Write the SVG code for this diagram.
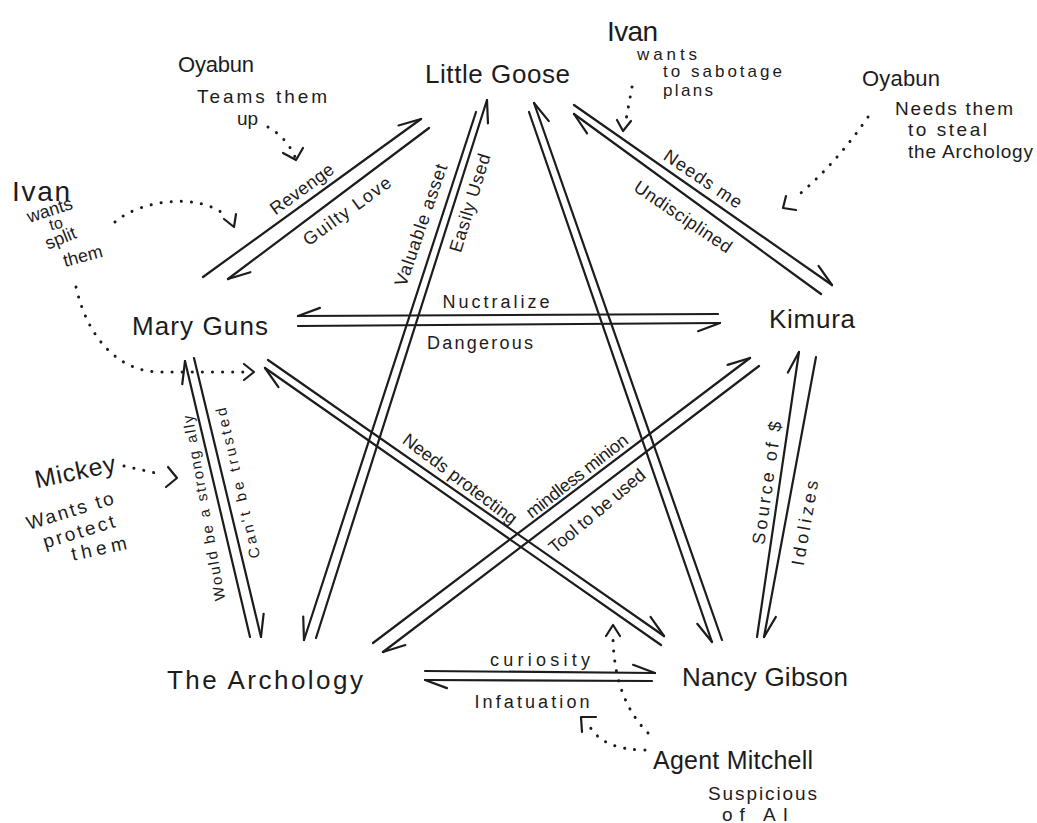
<svg xmlns="http://www.w3.org/2000/svg" width="1037" height="823" viewBox="0 0 1037 823">
<style>
  .ln{stroke:#1c1c1c;stroke-width:2.2;fill:none;stroke-linecap:round}
  .hd{stroke:#1c1c1c;stroke-width:2.2;fill:none;stroke-linecap:round;stroke-linejoin:round}
  .dt{stroke:#1c1c1c;stroke-width:3;fill:none;stroke-linecap:round;stroke-dasharray:0.1 10}
  text{font-family:"Liberation Sans","DejaVu Sans",sans-serif;fill:#1c1c1c}
  .nd{font-size:26px}
  .lb{font-size:18px}
  .an{font-size:19px}
  .nm{font-size:25px}
</style>
<defs>
  <marker id="hL" markerUnits="userSpaceOnUse" orient="auto" markerWidth="40" markerHeight="40" viewBox="-30 -20 40 40" refX="0" refY="0" overflow="visible">
    <path class="hd" d="M0,0 L-22,-8"/>
  </marker>
  <marker id="hR" markerUnits="userSpaceOnUse" orient="auto" markerWidth="40" markerHeight="40" viewBox="-30 -20 40 40" refX="0" refY="0" overflow="visible">
    <path class="hd" d="M0,0 L-22,8"/>
  </marker>
</defs>
<rect width="1037" height="823" fill="#ffffff"/>

<g id="connectors">
  <!-- Mary Guns - Little Goose -->
  <path class="ln" d="M203,277 L421,119" marker-end="url(#hL)"/>
  <path class="ln" d="M429,128 L228,279" marker-end="url(#hL)"/>
  <text class="lb" transform="translate(302,189) rotate(-36)" text-anchor="middle" y="6" textLength="74">Revenge</text>
  <text class="lb" transform="translate(347,211) rotate(-36)" text-anchor="middle" y="6" textLength="104">Guilty Love</text>

  <!-- Little Goose - Kimura -->
  <path class="ln" d="M574,105 L832,285" marker-end="url(#hL)"/>
  <path class="ln" d="M821,294 L574,114" marker-end="url(#hL)"/>
  <text class="lb" transform="translate(703,179) rotate(34)" text-anchor="middle" y="6" textLength="90">Needs  me</text>
  <text class="lb" transform="translate(683,217) rotate(34)" text-anchor="middle" y="6" textLength="114">Undisciplined</text>

  <!-- Mary Guns - Kimura -->
  <path class="ln" d="M718,314 L298,316" marker-end="url(#hR)"/>
  <path class="ln" d="M298,326 L720,323" marker-end="url(#hR)"/>
  <text class="lb" x="496" y="308" text-anchor="middle" textLength="107">Nuctralize</text>
  <text class="lb" x="480" y="349" text-anchor="middle" textLength="106">Dangerous</text>

  <!-- Mary Guns - The Archology -->
  <path class="ln" d="M250,637 L185,361" marker-end="url(#hL)"/>
  <path class="ln" d="M194,358 L261,637" marker-end="url(#hL)"/>
  <text class="lb" style="font-size:15px" transform="translate(204,508) rotate(-100)" text-anchor="middle" y="5" textLength="188">Would be a strong ally</text>
  <text class="lb" style="font-size:15px" transform="translate(238,483) rotate(-103)" text-anchor="middle" y="5" textLength="154">Can't be trusted</text>

  <!-- Little Goose - The Archology -->
  <path class="ln" d="M476,112 L304,640" marker-end="url(#hR)"/>
  <path class="ln" d="M316,638 L487,100" marker-end="url(#hR)"/>
  <text class="lb" transform="translate(421,225) rotate(-71)" text-anchor="middle" y="6" textLength="128">Valuable asset</text>
  <text class="lb" transform="translate(470,203) rotate(-73)" text-anchor="middle" y="6" textLength="102">Easily Used</text>

  <!-- Little Goose - Nancy Gibson -->
  <path class="ln" d="M529,112 L712,642" marker-end="url(#hR)"/>
  <path class="ln" d="M722,640 L534,103" marker-end="url(#hR)"/>

  <!-- Kimura - Nancy Gibson -->
  <path class="ln" d="M757,637 L799,352" marker-end="url(#hL)"/>
  <path class="ln" d="M816,357 L764,637" marker-end="url(#hL)"/>
  <text class="lb" transform="translate(767,483) rotate(-82)" text-anchor="middle" y="6" textLength="124">Source of $</text>
  <text class="lb" transform="translate(805,523) rotate(-80)" text-anchor="middle" y="6" textLength="86">Idolizes</text>

  <!-- Mary Guns - Nancy Gibson -->
  <path class="ln" d="M268,360 L664,636" marker-end="url(#hL)"/>
  <path class="ln" d="M661,645 L265,368" marker-end="url(#hL)"/>
  <text class="lb" transform="translate(460,479) rotate(37)" text-anchor="middle" y="6" textLength="138">Needs protecting</text>

  <!-- The Archology - Kimura -->
  <path class="ln" d="M373,643 L750,358" marker-end="url(#hL)"/>
  <path class="ln" d="M759,366 L383,652" marker-end="url(#hL)"/>
  <text class="lb" transform="translate(577,476) rotate(-38)" text-anchor="middle" y="6" textLength="124">mindless minion</text>
  <text class="lb" transform="translate(597,511) rotate(-40)" text-anchor="middle" y="6" textLength="120">Tool to be used</text>

  <!-- The Archology - Nancy Gibson -->
  <path class="ln" d="M425,671 L655,673" marker-end="url(#hL)"/>
  <path class="ln" d="M652,681 L425,680" marker-end="url(#hL)"/>
  <text class="lb" x="540" y="666" text-anchor="middle" textLength="100">curiosity</text>
  <text class="lb" x="532" y="708" text-anchor="middle" textLength="115">Infatuation</text>

  <!-- dotted annotation links -->
  <path class="dt" d="M268,127 Q287,138 295,157"/>
  <path class="hd" d="M283,153 L296,160 L303,148"/>
  <path class="dt" d="M115,222 C140,200 200,192 226,216"/>
  <path class="hd" d="M224,219 L234,227 L236,214"/>
  <path class="dt" d="M76,287 C88,340 120,372 160,372 L244,372"/>
  <path class="hd" d="M244,364 L254,372 L244,380"/>
  <path class="dt" d="M632,87 L626,120"/>
  <path class="hd" d="M617,120 L623,131 L631,121"/>
  <path class="dt" d="M868,117 Q835,165 795,198"/>
  <path class="hd" d="M786,196 L783,208 L796,210"/>
  <path class="dt" d="M124,466 L160,474"/>
  <path class="hd" d="M168,467 L177,478 L166,487"/>
  <path class="dt" d="M645,750 Q604,750 590,727"/>
  <path class="hd" d="M582,732 L581,717 L596,717"/>
  <path class="dt" d="M648,733 Q615,700 613,640"/>
  <path class="hd" d="M606,636 L613,625 L620,636"/>
</g>

<g id="n-little-goose"><text class="nd" x="425" y="83" textLength="145">Little Goose</text></g>
<g id="n-mary-guns"><text class="nd" x="132" y="335" textLength="136">Mary Guns</text></g>
<g id="n-kimura"><text class="nd" x="769" y="328" textLength="86">Kimura</text></g>
<g id="n-the-archology"><text class="nd" x="167" y="689" textLength="196">The Archology</text></g>
<g id="n-nancy-gibson"><text class="nd" x="682" y="686" textLength="166">Nancy Gibson</text></g>

<g id="a-oyabun-left">
  <text class="nm" style="font-size:22px" x="178" y="72" textLength="76">Oyabun</text>
  <text class="an" x="197" y="103" textLength="130">Teams them</text>
  <text class="an" x="237" y="125">up</text>
</g>
<g id="a-ivan-left">
  <text class="nm" style="font-size:28px" x="12" y="201" textLength="58">Ivan</text>
  <text class="an" style="font-size:18px" transform="translate(50,211) rotate(-18)" text-anchor="middle" y="5">wants</text>
  <text class="an" style="font-size:16px" transform="translate(56,224) rotate(-15)" text-anchor="middle" y="5">to</text>
  <text class="an" style="font-size:18px" transform="translate(61,239) rotate(-22)" text-anchor="middle" y="5">split</text>
  <text class="an" style="font-size:18px" transform="translate(83,257) rotate(-15)" text-anchor="middle" y="5">them</text>
</g>
<g id="a-ivan-top">
  <text class="nm" style="font-size:28px" x="607" y="41" textLength="51">Ivan</text>
  <text class="an" style="font-size:17px" x="637" y="60" textLength="60">wants</text>
  <text class="an" style="font-size:17px" x="663" y="77" textLength="119">to sabotage</text>
  <text class="an" style="font-size:17px" x="663" y="96" textLength="50">plans</text>
</g>
<g id="a-oyabun-right">
  <text class="nm" style="font-size:22px" x="862" y="86" textLength="78">Oyabun</text>
  <text class="an" x="895" y="115" textLength="118">Needs them</text>
  <text class="an" x="908" y="136" textLength="79">to steal</text>
  <text class="an" x="908" y="158" textLength="125">the Archology</text>
</g>
<g id="a-mickey">
  <text class="nm" transform="translate(75,471) rotate(-12)" text-anchor="middle" y="9" textLength="82">Mickey</text>
  <text class="an" transform="translate(70,511) rotate(-17)" text-anchor="middle" y="6" textLength="90">Wants to</text>
  <text class="an" transform="translate(79,532) rotate(-17)" text-anchor="middle" y="6" textLength="74">protect</text>
  <text class="an" transform="translate(99,549) rotate(-12)" text-anchor="middle" y="6" textLength="56">them</text>
</g>
<g id="a-agent-mitchell">
  <text class="nm" x="653" y="769" textLength="160">Agent Mitchell</text>
  <text class="an" x="708" y="800" textLength="109">Suspicious</text>
  <text class="an" x="722" y="821" textLength="66">of AI</text>
</g>
</svg>
